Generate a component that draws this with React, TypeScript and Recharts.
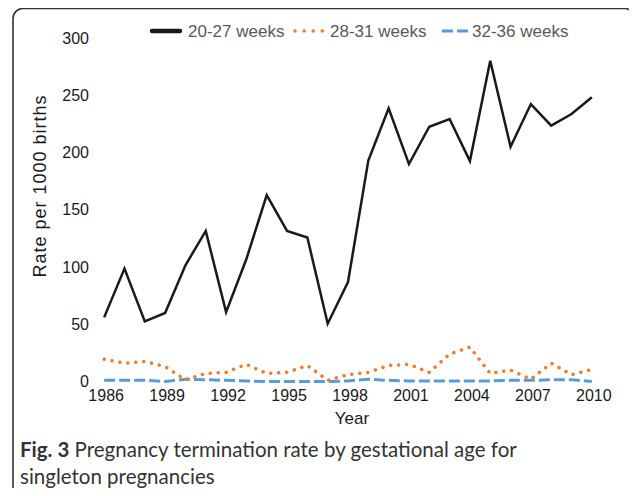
import React from "react";
import { LineChart, Line, XAxis, YAxis } from "recharts";

const years = [1986, 1987, 1988, 1989, 1990, 1991, 1992, 1993, 1994, 1995, 1996, 1997, 1998, 1999, 2000, 2001, 2002, 2003, 2004, 2005, 2006, 2007, 2008, 2009, 2010];
const weeks20to27 = [56, 98.6, 52.5, 59.8, 101.5, 131.5, 60.6, 107, 162.7, 131.5, 125.7, 50.5, 86.9, 193, 238.6, 189.9, 222.5, 229.2, 192.5, 280.2, 205, 242.3, 223.4, 233.6, 248.2];
const weeks28to31 = [19.5, 16, 17.5, 13, 1.5, 7, 8, 15, 7, 8, 14, 1, 6, 8, 14, 15, 8, 24, 30, 7, 10, 2, 16, 6, 10.5];
const weeks32to36 = [1, 1, 1, 0, 2, 1.5, 1, 0.5, 0, 0, 0, 0, 0.5, 2, 1, 0.5, 0.5, 0.5, 0.5, 0.5, 1, 1, 1.5, 1.5, 0];
const xTickLabels = [1986, 1989, 1992, 1995, 1998, 2001, 2004, 2007, 2010];
const yTicks = [0, 50, 100, 150, 200, 250, 300];
const seriesNames = ["20-27 weeks", "28-31 weeks", "32-36 weeks"];

const data = years.map((year, i) => ({
  year,
  a: weeks20to27[i],
  b: weeks28to31[i],
  c: weeks32to36[i],
}));

const boundaryTicks = [...years.map((y) => y - 0.5), years[years.length - 1] + 0.5];

const FONT = '"Liberation Sans", Arial, sans-serif';
const CAPTION_FONT = 'Lato, "Open Sans", sans-serif';

export default function App() {
  return (
    <div style={{ position: "relative", width: 637, height: 496, margin: -8, background: "#fff", overflow: "hidden" }}>
      <div style={{ position: "absolute", left: 0, top: 0 }}>
        <LineChart width={637} height={440} data={data} margin={{ top: 38, right: 35, bottom: 28.5, left: 0 }}>
          <XAxis
            xAxisId="marks"
            type="number"
            dataKey="year"
            domain={[years[0] - 0.5, years[years.length - 1] + 0.5]}
            ticks={boundaryTicks}
            tickFormatter={() => ""}
            height={0}
            tickSize={4}
            axisLine={{ stroke: "#d9d9d9", strokeWidth: 1.5 }}
            tickLine={{ stroke: "#d9d9d9", strokeWidth: 1 }}
            allowDecimals
          />
          <XAxis
            xAxisId="labels"
            type="number"
            dataKey="year"
            domain={[years[0] - 0.5, years[years.length - 1] + 0.5]}
            ticks={xTickLabels}
            height={30}
            axisLine={false}
            tickLine={false}
            tickSize={0}
            tickMargin={8.5}
            tick={{ fontSize: 16, fill: "#1a1a1a", fontFamily: FONT, dx: 2 }}
          />
          <YAxis
            domain={[0, 300]}
            ticks={yTicks}
            width={94}
            axisLine={false}
            tickLine={false}
            tickSize={0}
            tickMargin={5}
            tick={{ fontSize: 16, fill: "#1a1a1a", fontFamily: FONT }}
          />
          <Line xAxisId="labels" dataKey="c" name={seriesNames[2]} stroke="#5b9bd5" strokeWidth={3} strokeDasharray="11 4" dot={false} isAnimationActive={false} />
          <Line xAxisId="labels" dataKey="b" name={seriesNames[1]} stroke="#ed7d31" strokeWidth={3.5} strokeDasharray="0.1 7.9" strokeLinecap="round" dot={false} isAnimationActive={false} />
          <Line xAxisId="labels" dataKey="a" name={seriesNames[0]} stroke="#1a1a1a" strokeWidth={2.5} dot={false} isAnimationActive={false} />
        </LineChart>
      </div>
      <svg width={637} height={496} style={{ position: "absolute", left: 0, top: 0, pointerEvents: "none" }}>
        <rect x={13} y={8.5} width={621.5} height={520} rx={10} ry={10} fill="none" stroke="#333" strokeWidth={1.6} />
        {/* legend */}
        <line x1={152} y1={31} x2={180} y2={31} stroke="#1a1a1a" strokeWidth={4.5} strokeLinecap="round" />
        <text x={188} y={37} fontSize={17} fill="#595959" fontFamily={FONT}>{seriesNames[0]}</text>
        <line x1={295} y1={31} x2={323} y2={31} stroke="#ed7d31" strokeWidth={3.5} strokeDasharray="0.1 9" strokeLinecap="round" />
        <text x={330} y={37} fontSize={17} fill="#595959" fontFamily={FONT}>{seriesNames[1]}</text>
        <line x1={442} y1={31} x2={468} y2={31} stroke="#5b9bd5" strokeWidth={3} strokeDasharray="11 4" />
        <text x={472} y={37} fontSize={17} fill="#595959" fontFamily={FONT}>{seriesNames[2]}</text>
        {/* axis titles */}
        <text x={40} y={186} fontSize={18} letterSpacing={1} fill="#1a1a1a" fontFamily={FONT} textAnchor="middle" dominantBaseline="central" transform="rotate(-90 40 186)">Rate per 1000 births</text>
        <text x={352} y={418} fontSize={17} fill="#1a1a1a" fontFamily={FONT} textAnchor="middle" dominantBaseline="central">Year</text>
        {/* caption */}
        <text x={20} y={457} fontSize={20.5} fill="#333" fontFamily={CAPTION_FONT}>
          <tspan fontWeight="bold">Fig. 3</tspan>
          <tspan> Pregnancy termination rate by gestational age for</tspan>
        </text>
        <text x={20} y={484} fontSize={20.5} fill="#333" fontFamily={CAPTION_FONT}>singleton pregnancies</text>
      </svg>
    </div>
  );
}
